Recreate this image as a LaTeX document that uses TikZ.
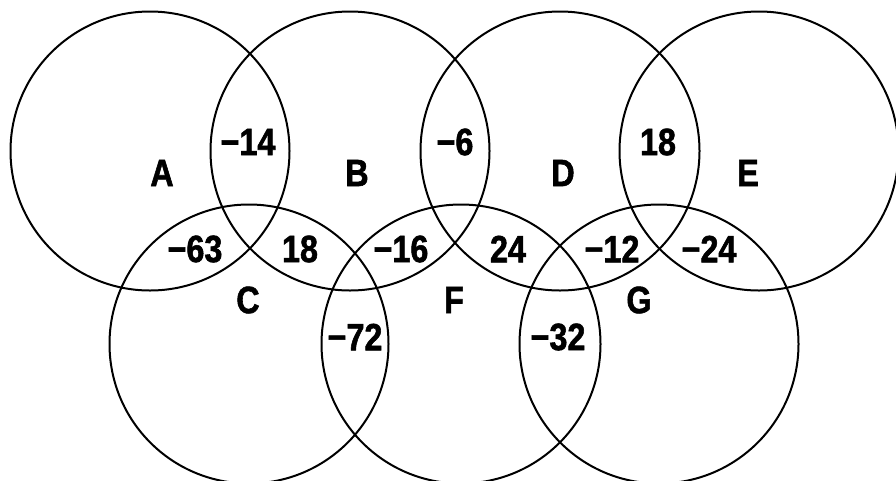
\documentclass[tikz,border=0pt]{standalone}
\usepackage{fontspec}
\setmainfont{Liberation Sans}[FakeStretch=0.85,FakeBold=1.5]
\begin{document}
\begin{tikzpicture}[x=1pt,y=-1pt,
  ring/.style={circle,draw=black,line width=2pt,minimum size=279pt,inner sep=0pt},
  lab/.style={font=\fontsize{38}{38}\selectfont\bfseries,inner sep=0pt,text=black}]
\useasboundingbox (0,0) rectangle (896,480);
\node[ring] (cA) at (150,151) {};
\node[ring] (cB) at (350,151) {};
\node[ring] (cD) at (560,151) {};
\node[ring] (cE) at (759,151) {};
\node[ring] (cC) at (249,344) {};
\node[ring] (cF) at (461,344) {};
\node[ring] (cG) at (659,344) {};
\node[lab] (lA) at (162,173) {A};
\node[lab] (lB) at (357,173) {B};
\node[lab] (lD) at (563,173) {D};
\node[lab] (lE) at (748,173) {E};
\node[lab] (lC) at (248,300) {C};
\node[lab] (lF) at (454,300) {F};
\node[lab] (lG) at (639,300) {G};
\node[lab] (nAB) at (248,142) {−14};
\node[lab] (nBD) at (455,142) {−6};
\node[lab] (nDE) at (658,142) {18};
\node[lab] (nAC) at (195,249) {−63};
\node[lab] (nBC) at (300,249) {18};
\node[lab] (nBF) at (401,249) {−16};
\node[lab] (nDF) at (508,249) {24};
\node[lab] (nDG) at (612,249) {−12};
\node[lab] (nEG) at (709,249) {−24};
\node[lab] (nCF) at (355,337) {−72};
\node[lab] (nFG) at (558,337) {−32};
\end{tikzpicture}
\end{document}
